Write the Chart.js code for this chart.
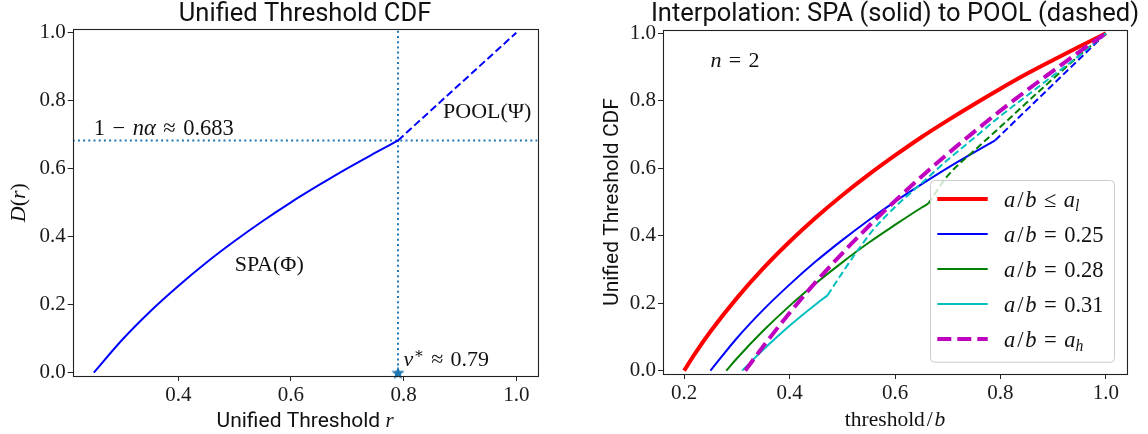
<!DOCTYPE html>
<html>
<head>
<meta charset="utf-8">
<script src="https://cdn.jsdelivr.net/npm/chart.js@4.4.1/dist/chart.umd.min.js"></script>
<style>
  html, body { margin: 0; padding: 0; background: #fff; }
  #wrap { position: relative; width: 1148px; height: 434px; }
  canvas { position: absolute; top: 0; }
  #cdfChart { left: 0; }
  #interpChart { left: 574px; }
</style>
</head>
<body>
<div id="wrap">
  <canvas id="cdfChart" width="574" height="434"></canvas>
  <canvas id="interpChart" width="574" height="434"></canvas>
</div>
<script>
const SERIF = '"Liberation Serif", "DejaVu Serif", serif';
const SANS = 'Roboto, "DejaVu Sans", sans-serif';
const C0 = '#1f77b4';

// ---- left panel: unified threshold CDF ----
const cdfXTicks = [0.4, 0.6, 0.8, 1.0];
const cdfYTicks = [0.0, 0.2, 0.4, 0.6, 0.8, 1.0];
const cdfXRange = [0.2125, 1.0375];
const cdfYRange = [-0.01, 1.01];

// SPA part (solid), also a/b = 0.25 on the right
const spaR = [0.25, 0.30, 0.35, 0.40, 0.45, 0.50, 0.55, 0.60, 0.65, 0.70, 0.75, 0.79];
const spaD = [0.000, 0.096, 0.180, 0.255, 0.324, 0.387, 0.446, 0.501, 0.552, 0.601, 0.647, 0.683];
// POOL part (dashed)
const poolR = [0.79, 1.0];
const poolD = [0.683, 1.0];

const vStar = 0.79;
const kinkLevel = 0.683;

// ---- right panel: interpolation ----
const interpXTicks = [0.2, 0.4, 0.6, 0.8, 1.0];
const interpYTicks = [0.0, 0.2, 0.4, 0.6, 0.8, 1.0];
const interpXRange = [0.16, 1.04];
const interpYRange = [-0.01, 1.01];

const lowT = [0.20, 0.22, 0.25, 0.30, 0.35, 0.40, 0.45, 0.50, 0.55, 0.60, 0.65, 0.70, 0.75, 0.80, 0.85, 0.90, 0.95, 1.00];
const lowF = [0.000, 0.049, 0.116, 0.215, 0.303, 0.382, 0.454, 0.520, 0.581, 0.638, 0.692, 0.742, 0.790, 0.836, 0.880, 0.921, 0.961, 1.000];

const g28SolidT = [0.28, 0.30, 0.35, 0.40, 0.45, 0.50, 0.55, 0.60, 0.65, 0.663];
const g28SolidF = [0.000, 0.036, 0.118, 0.192, 0.259, 0.321, 0.379, 0.432, 0.483, 0.495];
const g28PoolT = [0.663, 0.70, 0.75, 0.80, 0.85, 0.90, 0.95, 1.00];
const g28PoolF = [0.495, 0.578, 0.652, 0.723, 0.795, 0.866, 0.935, 1.000];

const c31SolidT = [0.31, 0.35, 0.40, 0.45, 0.472];
const c31SolidF = [0.000, 0.062, 0.133, 0.197, 0.223];
const c31PoolT = [0.472, 0.50, 0.53, 0.56, 0.60, 0.65, 0.70, 0.75, 0.80, 0.85, 0.90, 0.95, 1.00];
const c31PoolF = [0.223, 0.290, 0.358, 0.420, 0.485, 0.555, 0.625, 0.690, 0.755, 0.815, 0.875, 0.935, 1.000];

const highT = [0.316, 0.35, 0.40, 0.45, 0.50, 0.55, 0.60, 0.65, 0.70, 0.75, 0.80, 0.85, 0.90, 0.95, 1.00];
const highF = [0.000, 0.072, 0.171, 0.263, 0.348, 0.428, 0.503, 0.575, 0.643, 0.708, 0.771, 0.831, 0.889, 0.946, 1.000];

const pts = (xs, ys) => xs.map((x, i) => ({ x: x, y: ys[i] }));

// math-ish spacing
const REL = '\u2004';   // around = and ≈
const SL = '\u200a/\u200a';

// rich text: [text, italic, 'sub'|'sup'|null, fontFamily]
function partFont(p, size) {
    const s = p[2] ? size * 0.7 : size;
    return (p[1] ? 'italic ' : '') + s + 'px ' + (p[3] || SERIF);
}
function drawRich(ctx, parts, x, y, size, align) {
    let w = 0;
    parts.forEach(p => { ctx.font = partFont(p, size); w += ctx.measureText(p[0]).width; });
    let cx = align === 'center' ? x - w / 2 : (align === 'right' ? x - w : x);
    ctx.textAlign = 'left';
    ctx.textBaseline = 'alphabetic';
    parts.forEach(p => {
        ctx.font = partFont(p, size);
        const dy = p[2] === 'sub' ? size * 0.2 : (p[2] === 'sup' ? -size * 0.36 : 0);
        ctx.fillText(p[0], cx, y + dy);
        cx += ctx.measureText(p[0]).width;
    });
}
function drawFrame(chart) {
    const a = chart.chartArea, ctx = chart.ctx;
    ctx.save();
    ctx.strokeStyle = '#222';
    ctx.lineWidth = 1.1;
    ctx.strokeRect(Math.round(a.left) + 0.5, Math.round(a.top) + 0.5,
        Math.round(a.right - a.left), Math.round(a.bottom - a.top));
    ctx.restore();
}

function makeStar(r, color) {
    const c = document.createElement('canvas');
    const s = Math.ceil(r * 2 + 2);
    c.width = s; c.height = s;
    const g = c.getContext('2d');
    g.fillStyle = color;
    g.beginPath();
    for (let i = 0; i < 10; i++) {
        const ang = -Math.PI / 2 + i * Math.PI / 5;
        const rr = i % 2 ? r * 0.42 : r;
        g.lineTo(s / 2 + rr * Math.cos(ang), s / 2 + rr * Math.sin(ang) + r * 0.1);
    }
    g.closePath();
    g.fill();
    return c;
}

function axes(xRange, yRange, xTicks, yTicks, yWidth, xHeight) {
    const grid = { display: true, drawOnChartArea: false, drawTicks: true, tickLength: 5, tickColor: '#222', tickWidth: 1 };
    const tickFont = { family: SERIF, size: 21 };
    return {
        x: {
            type: 'linear', min: xRange[0], max: xRange[1],
            grid: grid, border: { display: false },
            ticks: { font: tickFont, color: '#1a1a1a', padding: 2, maxRotation: 0, autoSkip: false,
                     callback: v => v.toFixed(1) },
            afterBuildTicks: s => { s.ticks = xTicks.map(v => ({ value: v })); },
            afterFit: s => { s.height = xHeight; }
        },
        y: {
            type: 'linear', min: yRange[0], max: yRange[1],
            grid: grid, border: { display: false },
            ticks: { font: tickFont, color: '#1a1a1a', padding: 2, autoSkip: false,
                     callback: v => v.toFixed(1) },
            afterBuildTicks: s => { s.ticks = yTicks.map(v => ({ value: v })); },
            afterFit: s => { s.width = yWidth; }
        }
    };
}

function line(data, color, width, dash, extra) {
    return Object.assign({
        data: data, showLine: true, borderColor: color, backgroundColor: color,
        borderWidth: width, borderDash: dash || [], pointRadius: 0, fill: false,
        cubicInterpolationMode: 'monotone', borderCapStyle: 'butt'
    }, extra || {});
}

const baseOptions = {
    responsive: false, animation: false, devicePixelRatio: 1,
    plugins: { legend: { display: false }, tooltip: { enabled: false }, title: { display: false } },
    events: []
};

// ---- left chart ----
const cdfTexts = {
    id: 'cdfTexts',
    afterDraw(chart) {
        const ctx = chart.ctx, a = chart.chartArea, xs = chart.scales.x, ys = chart.scales.y;
        drawFrame(chart);
        ctx.save();
        ctx.fillStyle = '#111';
        const cx = (a.left + a.right) / 2;
        drawRich(ctx, [['Unified Threshold CDF', false, null, SANS]], cx, 21, 25.5, 'center');
        drawRich(ctx, [['Unified Threshold ', false, null, SANS], ['r', true]], cx, 427, 21, 'center');
        ctx.save();
        ctx.translate(25, (a.top + a.bottom) / 2);
        ctx.rotate(-Math.PI / 2);
        drawRich(ctx, [['D', true], ['(', false], ['r', true], [')', false]], 0, 0, 22, 'center');
        ctx.restore();
        const px = (x, y) => [xs.getPixelForValue(x), ys.getPixelForValue(y)];
        let p = px(0.25, 0.70);
        drawRich(ctx, [['1' + REL + '\u2212' + REL, false], ['n\u03b1', true], [REL + '\u2248' + REL + '0.683', false]], p[0], p[1], 22.5, 'left');
        p = px(0.87, 0.75);
        drawRich(ctx, [['POOL(\u03a8)', false]], p[0], p[1], 22, 'left');
        p = px(0.50, 0.30);
        drawRich(ctx, [['SPA(\u03a6)', false]], p[0], p[1], 22, 'left');
        p = px(0.80, 0.02);
        drawRich(ctx, [['v', true], ['\u2217', false, 'sup', '"DejaVu Serif", serif'], [REL + '\u2248' + REL + '0.79', false]], p[0], p[1], 22, 'left');
        ctx.restore();
    }
};

new Chart(document.getElementById('cdfChart'), {
    type: 'scatter',
    data: {
        datasets: [
            line(pts(spaR, spaD), '#0000ff', 2, null, { order: 3 }),
            line(pts(poolR, poolD), '#0000ff', 2, [7.5, 3.5], { order: 2 }),
            line(pts([vStar, vStar], cdfYRange), C0, 2, [2, 3.2], { order: 5, cubicInterpolationMode: 'default' }),
            line(pts(cdfXRange, [kinkLevel, kinkLevel]), C0, 2, [2, 3.2], { order: 4, cubicInterpolationMode: 'default' }),
            { data: [{ x: vStar, y: 0 }], showLine: false, pointStyle: makeStar(7, C0), pointRadius: 7, clip: false, order: 0 }
        ]
    },
    options: Object.assign({}, baseOptions, {
        layout: { padding: { left: 0, top: 29.3, right: 36.6, bottom: 0 } },
        scales: axes(cdfXRange, cdfYRange, cdfXTicks, cdfYTicks, 72.7, 58)
    }),
    plugins: [cdfTexts]
});

// ---- right chart ----
const interpSets = [
    line(pts(lowT, lowF), '#ff0000', 4),
    line(pts(spaR, spaD), '#0000ff', 2),
    line(pts(poolR, poolD), '#0000ff', 2, [7, 3.5]),
    line(pts(g28SolidT, g28SolidF), '#008000', 2),
    line(pts(g28PoolT, g28PoolF), '#008000', 2, [7, 3.5]),
    line(pts(c31SolidT, c31SolidF), '#00bfbf', 2),
    line(pts(c31PoolT, c31PoolF), '#00bfbf', 2, [7, 3.5]),
    line(pts(highT, highF), '#bf00bf', 4, [14, 6])
];
interpSets.forEach((d, i) => { d.order = interpSets.length - i; });

const legendItems = [
    { set: 0, label: [['a', true], [SL, false], ['b', true], [REL + '\u2264' + REL, false], ['a', true], ['l', true, 'sub']] },
    { set: 1, label: [['a', true], [SL, false], ['b', true], [REL + '=' + REL + '0.25', false]] },
    { set: 3, label: [['a', true], [SL, false], ['b', true], [REL + '=' + REL + '0.28', false]] },
    { set: 5, label: [['a', true], [SL, false], ['b', true], [REL + '=' + REL + '0.31', false]] },
    { set: 7, label: [['a', true], [SL, false], ['b', true], [REL + '=' + REL, false], ['a', true], ['h', true, 'sub']] }
];

const interpTexts = {
    id: 'interpTexts',
    afterDraw(chart) {
        const ctx = chart.ctx, a = chart.chartArea, xs = chart.scales.x, ys = chart.scales.y;
        // legend box, lower right
        const bw = 184, bh = 181.7;
        const bx = a.right - 13 - bw, by = a.bottom - 12.3 - bh;
        ctx.save();
        ctx.beginPath();
        ctx.roundRect(bx + 0.5, by + 0.5, bw, bh, 4);
        ctx.fillStyle = 'rgba(255,255,255,0.8)';
        ctx.fill();
        ctx.strokeStyle = '#cccccc';
        ctx.lineWidth = 1;
        ctx.stroke();
        legendItems.forEach((item, i) => {
            const ds = chart.data.datasets[item.set];
            const ry = by + 19 + 35 * i;
            ctx.beginPath();
            ctx.strokeStyle = ds.borderColor;
            ctx.lineWidth = ds.borderWidth;
            ctx.lineCap = 'butt';
            ctx.setLineDash(ds.borderDash || []);
            ctx.moveTo(bx + 7.3, ry);
            ctx.lineTo(bx + 57.7, ry);
            ctx.stroke();
            ctx.setLineDash([]);
            ctx.fillStyle = '#111';
            drawRich(ctx, item.label, bx + 74, ry + 7.5, 22.5, 'left');
        });
        ctx.restore();
        drawFrame(chart);
        ctx.save();
        ctx.fillStyle = '#111';
        const cx = (a.left + a.right) / 2;
        drawRich(ctx, [['Interpolation: SPA (solid) to POOL (dashed)', false, null, SANS]], cx, 21, 25.5, 'center');
        drawRich(ctx, [['threshold' + SL, false], ['b', true]], cx, 426, 21.5, 'center');
        ctx.save();
        ctx.translate(44, (a.top + a.bottom) / 2);
        ctx.rotate(-Math.PI / 2);
        drawRich(ctx, [['Unified Threshold CDF', false, null, SANS]], 0, 0, 21, 'center');
        ctx.restore();
        drawRich(ctx, [['n', true], [REL + '=' + REL + '2', false]], xs.getPixelForValue(0.25), ys.getPixelForValue(0.90), 22, 'left');
        ctx.restore();
    }
};

new Chart(document.getElementById('interpChart'), {
    type: 'scatter',
    data: { datasets: interpSets },
    options: Object.assign({}, baseOptions, {
        layout: { padding: { left: 0, top: 30, right: 21, bottom: 0 } },
        scales: axes(interpXRange, interpYRange, interpXTicks, interpYTicks, 89, 60)
    }),
    plugins: [interpTexts]
});
</script>
</body>
</html>
